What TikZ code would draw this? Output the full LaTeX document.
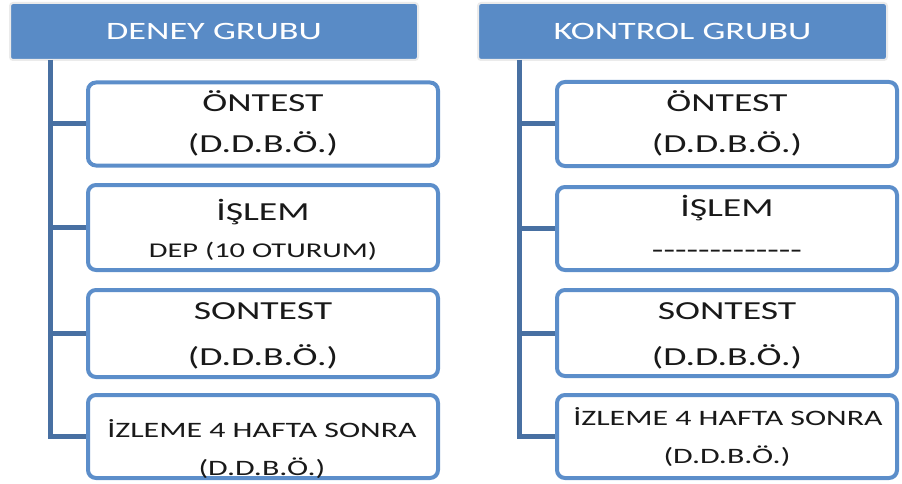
\documentclass[tikz,border=0pt]{standalone}
\usepackage{fontspec}
\setmainfont{Carlito}[FakeStretch=1.45]
\definecolor{hdrfill}{RGB}{89,139,198}
\definecolor{boxline}{RGB}{92,142,202}
\definecolor{connline}{RGB}{72,112,162}
\definecolor{txt}{RGB}{25,25,25}
\tikzset{
  hdr/.style={draw=black!8, line width=2pt, fill=hdrfill, rounded corners=3pt, inner sep=0pt},
  stepbox/.style={draw=boxline, line width=4pt, fill=white, rounded corners=8pt, inner sep=0pt},
  conn/.style={draw=connline, line width=5pt, line cap=butt, line join=miter},
  big/.style={text=txt, font=\fontsize{26}{28}\selectfont, inner sep=0pt, anchor=base},
  mid/.style={text=txt, font=\fontsize{22}{24}\selectfont, inner sep=0pt, anchor=base},
  small/.style={text=txt, font=\fontsize{21}{23}\selectfont, inner sep=0pt, anchor=base},
  htxt/.style={text=white, font=\fontsize{25}{27}\selectfont, inner sep=0pt, anchor=base},
}
\begin{document}
\begin{tikzpicture}[x=1pt,y=-1pt]
\useasboundingbox (0,0) rectangle (902,484);
% ---------- left group ----------
\node[hdr, minimum width=408pt, minimum height=57pt] (hL) at (214,31.5) {};
\node[htxt] (hLt) at (214,39.5) {DENEY GRUBU};
\coordinate (tL) at (50,60);
\node[stepbox, minimum width=350pt, minimum height=83pt] (bL1) at (263,124) {};
\node[stepbox, minimum width=350pt, minimum height=85pt] (bL2) at (263,227.5) {};
\node[stepbox, minimum width=350pt, minimum height=87pt] (bL3) at (263,333.5) {};
\node[stepbox, minimum width=350pt, minimum height=83pt] (bL4) at (263,436.5) {};
\draw[conn] (tL) |- (bL4.west);
\draw[conn] (tL |- bL1.west) -- (bL1.west);
\draw[conn] (tL |- bL2.west) -- (bL2.west);
\draw[conn] (tL |- bL3.west) -- (bL3.west);
\node[big] (l1a) at (263,112) {ÖNTEST};
\node[big] (l1b) at (263,153) {(D.D.B.Ö.)};
\node[big] (l2a) at (263,220) {İŞLEM};
\node[small] (l2b) at (263,257.5) {DEP (10 OTURUM)};
\node[big] (l3a) at (263,319) {SONTEST};
\node[big] (l3b) at (263,365) {(D.D.B.Ö.)};
\node[mid] (l4a) at (262,437) {İZLEME 4 HAFTA SONRA};
\node[mid] (l4b) at (262,475) {(D.D.B.Ö.)};
% ---------- right group ----------
\node[hdr, minimum width=409pt, minimum height=57pt] (hR) at (682.5,31.5) {};
\node[htxt] (hRt) at (682.5,39.5) {KONTROL GRUBU};
\coordinate (tR) at (519,60);
\node[stepbox, minimum width=340pt, minimum height=84pt] (bR1) at (727,124) {};
\node[stepbox, minimum width=340pt, minimum height=83pt] (bR2) at (727,228.5) {};
\node[stepbox, minimum width=340pt, minimum height=86pt] (bR3) at (727,333) {};
\node[stepbox, minimum width=340pt, minimum height=83pt] (bR4) at (727,436.5) {};
\draw[conn] (tR) |- (bR4.west);
\draw[conn] (tR |- bR1.west) -- (bR1.west);
\draw[conn] (tR |- bR2.west) -- (bR2.west);
\draw[conn] (tR |- bR3.west) -- (bR3.west);
\node[big] (r1a) at (727,112) {ÖNTEST};
\node[big] (r1b) at (727,153) {(D.D.B.Ö.)};
\node[big] (r2a) at (727,216) {İŞLEM};
\node[big] (r2b) at (727,258) {-{}-{}-{}-{}-{}-{}-{}-{}-{}-{}-{}-{}-};
\node[big] (r3a) at (727,319) {SONTEST};
\node[big] (r3b) at (727,365) {(D.D.B.Ö.)};
\node[mid] (r4a) at (728,425) {İZLEME 4 HAFTA SONRA};
\node[mid] (r4b) at (727,463) {(D.D.B.Ö.)};
\end{tikzpicture}
\end{document}
